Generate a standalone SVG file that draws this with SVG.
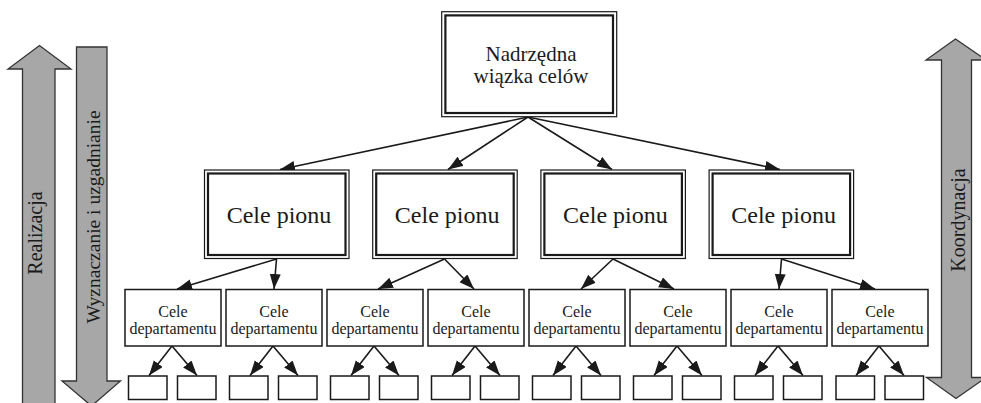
<svg xmlns="http://www.w3.org/2000/svg" width="981" height="403" viewBox="0 0 981 403">
<style>
text{font-family:"Liberation Serif","Times New Roman",serif;fill:#1a1a1a;text-anchor:middle}
.big{fill:#a7a7a7;stroke:#333;stroke-width:1.3}
.o{fill:#fff;stroke:#1a1a1a;stroke-width:1.2}
.i{fill:none;stroke:#1a1a1a;stroke-width:2.2}
.d{fill:#fff;stroke:#1a1a1a;stroke-width:1.5}
.c{stroke:#1a1a1a;stroke-width:1.6;fill:none;marker-end:url(#ah)}
.t1{font-size:21px}
.t2{font-size:24px}
.t3{font-size:16px}
.ta{font-size:20px}
</style>
<defs>
<marker id="ah" markerUnits="userSpaceOnUse" markerWidth="16" markerHeight="12" refX="15" refY="5.5" orient="auto">
<path d="M0,0 L15,5.5 L0,11 z" fill="#1a1a1a"/>
</marker>
</defs>

<g id="arrow-realizacja">
<path class="big" d="M22.5,410 L22.5,69 L8,69 L39.5,45.5 L71,69 L55,69 L55,410 z"/>
<text class="ta" transform="translate(42,233) rotate(-90)">Realizacja</text>
</g>
<g id="arrow-wyznaczanie">
<path class="big" d="M76.5,47 L107,47 L107,381 L120.5,381 L91.5,406 L62,381 L76.5,381 z"/>
<text class="ta" transform="translate(100,217) rotate(-90)" style="font-size:19.5px">Wyznaczanie i uzgadnianie</text>
</g>
<g id="arrow-koordynacja">
<path class="big" d="M955.5,39 L986,60 L971.5,60 L971.5,377.5 L986,377.5 L956,398.5 L926.5,377.5 L941.5,377.5 L941.5,60 L926,60 z"/>
<text class="ta" transform="translate(965,220) rotate(-90)">Koordynacja</text>
</g>

<g id="connectors">
<line class="c" x1="528" y1="117" x2="280" y2="169.5"/>
<line class="c" x1="528" y1="117" x2="448" y2="169.5"/>
<line class="c" x1="528" y1="117" x2="612" y2="169.5"/>
<line class="c" x1="528" y1="117" x2="780" y2="169.5"/>

<line class="c" x1="276.5" y1="259" x2="177" y2="289"/>
<line class="c" x1="276.5" y1="259" x2="274" y2="289"/>
<line class="c" x1="444.5" y1="259" x2="378" y2="289"/>
<line class="c" x1="444.5" y1="259" x2="474" y2="289"/>
<line class="c" x1="613" y1="259" x2="581" y2="289"/>
<line class="c" x1="613" y1="259" x2="674" y2="289"/>
<line class="c" x1="781.5" y1="259" x2="779" y2="289"/>
<line class="c" x1="781.5" y1="259" x2="875" y2="289"/>

<line class="c" x1="172" y1="346" x2="149" y2="375.5"/>
<line class="c" x1="172" y1="346" x2="197" y2="375.5"/>
<line class="c" x1="273" y1="346" x2="250" y2="375.5"/>
<line class="c" x1="273" y1="346" x2="298" y2="375.5"/>
<line class="c" x1="374" y1="346" x2="351" y2="375.5"/>
<line class="c" x1="374" y1="346" x2="399" y2="375.5"/>
<line class="c" x1="475" y1="346" x2="452" y2="375.5"/>
<line class="c" x1="475" y1="346" x2="500" y2="375.5"/>
<line class="c" x1="576" y1="346" x2="553" y2="375.5"/>
<line class="c" x1="576" y1="346" x2="601" y2="375.5"/>
<line class="c" x1="677" y1="346" x2="654" y2="375.5"/>
<line class="c" x1="677" y1="346" x2="702" y2="375.5"/>
<line class="c" x1="778" y1="346" x2="755" y2="375.5"/>
<line class="c" x1="778" y1="346" x2="803" y2="375.5"/>
<line class="c" x1="879" y1="346" x2="856" y2="375.5"/>
<line class="c" x1="879" y1="346" x2="904" y2="375.5"/>
</g>

<g id="top">
<rect class="o" x="441.7" y="11.7" width="175" height="105"/>
<rect class="i" x="445.4" y="15.4" width="167.6" height="97.6"/>
<text class="t1" x="531" y="61">Nadrzędna</text>
<text class="t1" x="531" y="83">wiązka celów</text>
</g>

<g id="pion1">
<rect class="o" x="204.5" y="170" width="144.5" height="88.5"/>
<rect class="i" x="208" y="173.5" width="137.5" height="81.5"/>
<text class="t2" x="279" y="223">Cele pionu</text>
</g>
<g id="pion2">
<rect class="o" x="372.7" y="170" width="144.5" height="88.5"/>
<rect class="i" x="376.2" y="173.5" width="137.5" height="81.5"/>
<text class="t2" x="447.2" y="223">Cele pionu</text>
</g>
<g id="pion3">
<rect class="o" x="540.9" y="170" width="144.5" height="88.5"/>
<rect class="i" x="544.4" y="173.5" width="137.5" height="81.5"/>
<text class="t2" x="615.4" y="223">Cele pionu</text>
</g>
<g id="pion4">
<rect class="o" x="709.1" y="170" width="144.5" height="88.5"/>
<rect class="i" x="712.6" y="173.5" width="137.5" height="81.5"/>
<text class="t2" x="783.6" y="223">Cele pionu</text>
</g>

<g id="dep1"><rect class="d" x="125" y="289.5" width="96" height="56.5"/><text class="t3" x="173" y="317">Cele</text><text class="t3" x="173" y="333.5">departamentu</text></g>
<g id="dep2"><rect class="d" x="226" y="289.5" width="96" height="56.5"/><text class="t3" x="274" y="317">Cele</text><text class="t3" x="274" y="333.5">departamentu</text></g>
<g id="dep3"><rect class="d" x="327" y="289.5" width="96" height="56.5"/><text class="t3" x="375" y="317">Cele</text><text class="t3" x="375" y="333.5">departamentu</text></g>
<g id="dep4"><rect class="d" x="428" y="289.5" width="96" height="56.5"/><text class="t3" x="476" y="317">Cele</text><text class="t3" x="476" y="333.5">departamentu</text></g>
<g id="dep5"><rect class="d" x="529" y="289.5" width="96" height="56.5"/><text class="t3" x="577" y="317">Cele</text><text class="t3" x="577" y="333.5">departamentu</text></g>
<g id="dep6"><rect class="d" x="630" y="289.5" width="96" height="56.5"/><text class="t3" x="678" y="317">Cele</text><text class="t3" x="678" y="333.5">departamentu</text></g>
<g id="dep7"><rect class="d" x="731" y="289.5" width="96" height="56.5"/><text class="t3" x="779" y="317">Cele</text><text class="t3" x="779" y="333.5">departamentu</text></g>
<g id="dep8"><rect class="d" x="832" y="289.5" width="96" height="56.5"/><text class="t3" x="880" y="317">Cele</text><text class="t3" x="880" y="333.5">departamentu</text></g>

<g id="small1"><rect class="d" x="128.5" y="376" width="38.5" height="23.5"/></g>
<g id="small2"><rect class="d" x="177.5" y="376" width="38.5" height="23.5"/></g>
<g id="small3"><rect class="d" x="229.5" y="376" width="38.5" height="23.5"/></g>
<g id="small4"><rect class="d" x="278.5" y="376" width="38.5" height="23.5"/></g>
<g id="small5"><rect class="d" x="330.5" y="376" width="38.5" height="23.5"/></g>
<g id="small6"><rect class="d" x="379.5" y="376" width="38.5" height="23.5"/></g>
<g id="small7"><rect class="d" x="431.5" y="376" width="38.5" height="23.5"/></g>
<g id="small8"><rect class="d" x="480.5" y="376" width="38.5" height="23.5"/></g>
<g id="small9"><rect class="d" x="532.5" y="376" width="38.5" height="23.5"/></g>
<g id="small10"><rect class="d" x="581.5" y="376" width="38.5" height="23.5"/></g>
<g id="small11"><rect class="d" x="633.5" y="376" width="38.5" height="23.5"/></g>
<g id="small12"><rect class="d" x="682.5" y="376" width="38.5" height="23.5"/></g>
<g id="small13"><rect class="d" x="734.5" y="376" width="38.5" height="23.5"/></g>
<g id="small14"><rect class="d" x="783.5" y="376" width="38.5" height="23.5"/></g>
<g id="small15"><rect class="d" x="836" y="376" width="38.5" height="23.5"/></g>
<g id="small16"><rect class="d" x="885" y="376" width="38.5" height="23.5"/></g>
</svg>
